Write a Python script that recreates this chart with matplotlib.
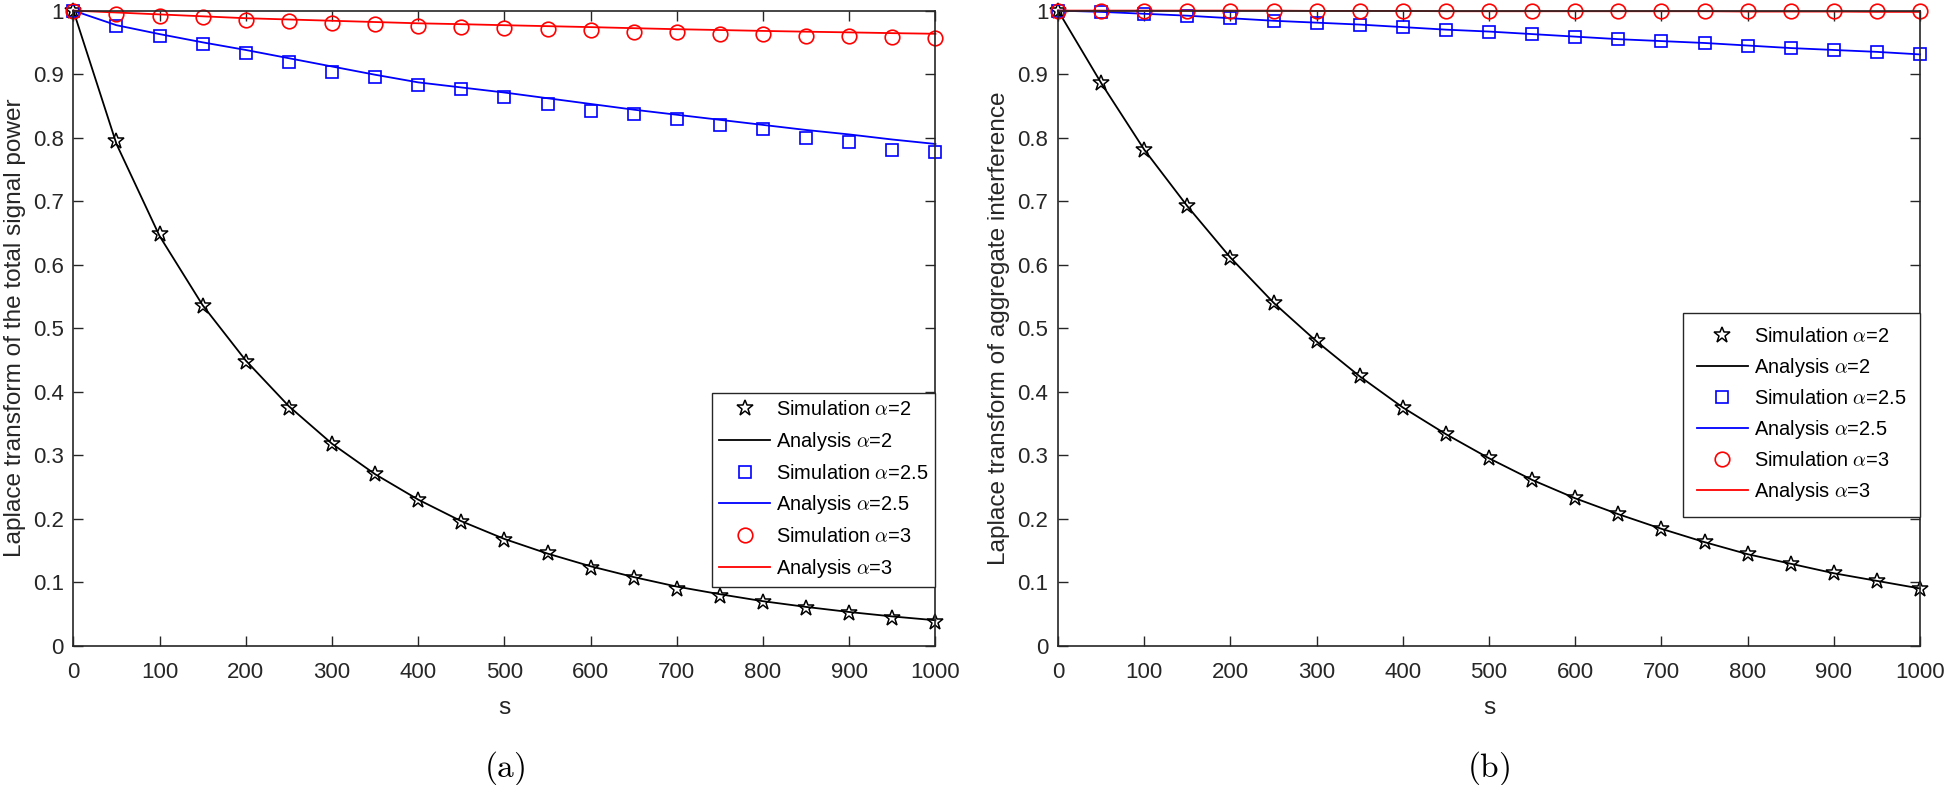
import matplotlib
matplotlib.use("Agg")
import matplotlib.pyplot as plt

plt.rcParams['font.family'] = ['Liberation Sans', 'DejaVu Sans']
plt.rcParams['mathtext.fontset'] = 'cm'

# x positions (s)
s = [0, 50, 100, 150, 200, 250, 300, 350, 400, 450, 500,
     550, 600, 650, 700, 750, 800, 850, 900, 950, 1000]

# (a) Laplace transform of the total signal power
a_sim_2 = [1.0, 0.794, 0.648, 0.535, 0.447, 0.375, 0.318, 0.271, 0.229, 0.194, 0.167,
           0.146, 0.122, 0.106, 0.090, 0.078, 0.068, 0.059, 0.051, 0.043, 0.038]
a_ana_2 = [1.0, 0.790, 0.645, 0.536, 0.449, 0.377, 0.318, 0.270, 0.230, 0.196, 0.168,
           0.145, 0.125, 0.108, 0.093, 0.081, 0.070, 0.061, 0.053, 0.046, 0.040]
a_sim_25 = [1.0, 0.976, 0.960, 0.947, 0.933, 0.919, 0.904, 0.895, 0.883, 0.877, 0.864,
            0.853, 0.842, 0.837, 0.829, 0.820, 0.813, 0.800, 0.793, 0.780, 0.778]
a_ana_25 = [1.0, 0.977, 0.963, 0.950, 0.938, 0.925, 0.912, 0.899, 0.887, 0.879, 0.871,
            0.862, 0.853, 0.844, 0.836, 0.828, 0.820, 0.812, 0.805, 0.797, 0.790]
a_sim_3 = [1.0, 0.995, 0.992, 0.990, 0.985, 0.983, 0.981, 0.979, 0.976, 0.974, 0.973,
           0.971, 0.970, 0.967, 0.966, 0.963, 0.963, 0.960, 0.960, 0.958, 0.957]
a_ana_3 = [1.0, 0.997, 0.994, 0.991, 0.988, 0.986, 0.984, 0.982, 0.980, 0.9786, 0.977,
           0.9755, 0.974, 0.9723, 0.9707, 0.9694, 0.968, 0.9668, 0.9657, 0.9645, 0.9635]

# (b) Laplace transform of aggregate interference
b_sim_2 = [1.0, 0.886, 0.781, 0.692, 0.611, 0.540, 0.479, 0.424, 0.375, 0.333, 0.295,
           0.261, 0.232, 0.207, 0.184, 0.163, 0.144, 0.129, 0.114, 0.102, 0.090]
b_ana_2 = b_sim_2
b_sim_25 = [1.0, 0.998, 0.995, 0.992, 0.988, 0.984, 0.981, 0.978, 0.974, 0.970, 0.967,
            0.963, 0.959, 0.955, 0.952, 0.949, 0.945, 0.941, 0.938, 0.935, 0.931]
b_ana_25 = b_sim_25
b_sim_3 = [1.0, 1.0, 1.0, 1.0, 1.0, 1.0, 1.0, 1.0, 1.0, 1.0, 1.0,
           1.0, 1.0, 1.0, 1.0, 1.0, 1.0, 1.0, 1.0, 1.0, 1.0]
b_ana_3 = [1.0, 1.0, 1.0, 1.0, 1.0, 1.0, 0.9995, 0.9995, 0.9995, 0.999, 0.999,
           0.999, 0.999, 0.999, 0.999, 0.999, 0.9985, 0.9985, 0.9985, 0.998, 0.998]

labels = [r'Simulation $\alpha$=2', r'Analysis $\alpha$=2',
          r'Simulation $\alpha$=2.5', r'Analysis $\alpha$=2.5',
          r'Simulation $\alpha$=3', r'Analysis $\alpha$=3']

yticks = [0, 0.1, 0.2, 0.3, 0.4, 0.5, 0.6, 0.7, 0.8, 0.9, 1]
ytick_labels = ['0', '0.1', '0.2', '0.3', '0.4', '0.5', '0.6', '0.7', '0.8', '0.9', '1']
xticks = [0, 100, 200, 300, 400, 500, 600, 700, 800, 900, 1000]

axcol = '#262626'

fig = plt.figure(figsize=(19.46, 7.85), dpi=100)
ax1 = fig.add_axes([0.0377, 0.1775, 0.443, 0.809])
ax2 = fig.add_axes([0.5437, 0.1775, 0.443, 0.809])


def draw(ax, sim2, ana2, sim25, ana25, sim3, ana3, ylabel, tag, leg_top, bpad, lspace):
    h = []
    h += ax.plot(s, sim2, ls='none', marker='*', ms=12, mfc='none', mec='k', mew=1.1,
                 clip_on=False)
    h += ax.plot(s, ana2, color='k', lw=1.3, clip_on=False)
    h += ax.plot(s, sim25, ls='none', marker='s', ms=8, mfc='none', mec='#0000ff', mew=1.2,
                 clip_on=False)
    h += ax.plot(s, ana25, color='#0000ff', lw=1.3, clip_on=False)
    h += ax.plot(s, sim3, ls='none', marker='o', ms=10.5, mfc='none', mec='#ff0000', mew=1.2,
                 clip_on=False)
    h += ax.plot(s, ana3, color='#ff0000', lw=1.3, clip_on=False)

    ax.set_xlim(0, 1000)
    ax.set_ylim(0, 1)
    ax.set_xticks(xticks)
    ax.set_xticklabels([str(t) for t in xticks])
    ax.set_yticks(yticks)
    ax.set_yticklabels(ytick_labels)
    ax.tick_params(direction='in', top=True, right=True, length=7, width=1,
                   colors=axcol, labelsize=16)
    ax.tick_params(axis='x', pad=12)
    ax.tick_params(axis='y', pad=7)
    for sp in ax.spines.values():
        sp.set_color(axcol)
        sp.set_linewidth(1.2)

    ax.set_xlabel('s', fontsize=17.6, color=axcol, labelpad=10)
    ax.set_ylabel(ylabel, fontsize=17.6, color=axcol, labelpad=5)
    ax.text(0.5, -0.192, r'$\mathrm{(' + tag + ')}$', transform=ax.transAxes,
            fontsize=24, ha='center', va='center', color='k')

    leg = ax.legend(h, labels, loc='upper right', bbox_to_anchor=(1.0, leg_top),
                    borderaxespad=0, fontsize=14.4, frameon=True, fancybox=False,
                    edgecolor=axcol, framealpha=1, handlelength=2.55,
                    handletextpad=0.3, labelspacing=lspace, borderpad=bpad)
    leg.get_frame().set_linewidth(1.0)
    leg.set_zorder(5)


draw(ax1, a_sim_2, a_ana_2, a_sim_25, a_ana_25, a_sim_3, a_ana_3,
     'Laplace transform of the total signal power', 'a', 0.398, 0.35, 0.54)
draw(ax2, b_sim_2, b_ana_2, b_sim_25, b_ana_25, b_sim_3, b_ana_3,
     'Laplace transform of aggregate interference', 'b', 0.524, 0.7, 0.5)

fig.savefig('out.png', dpi=100)
